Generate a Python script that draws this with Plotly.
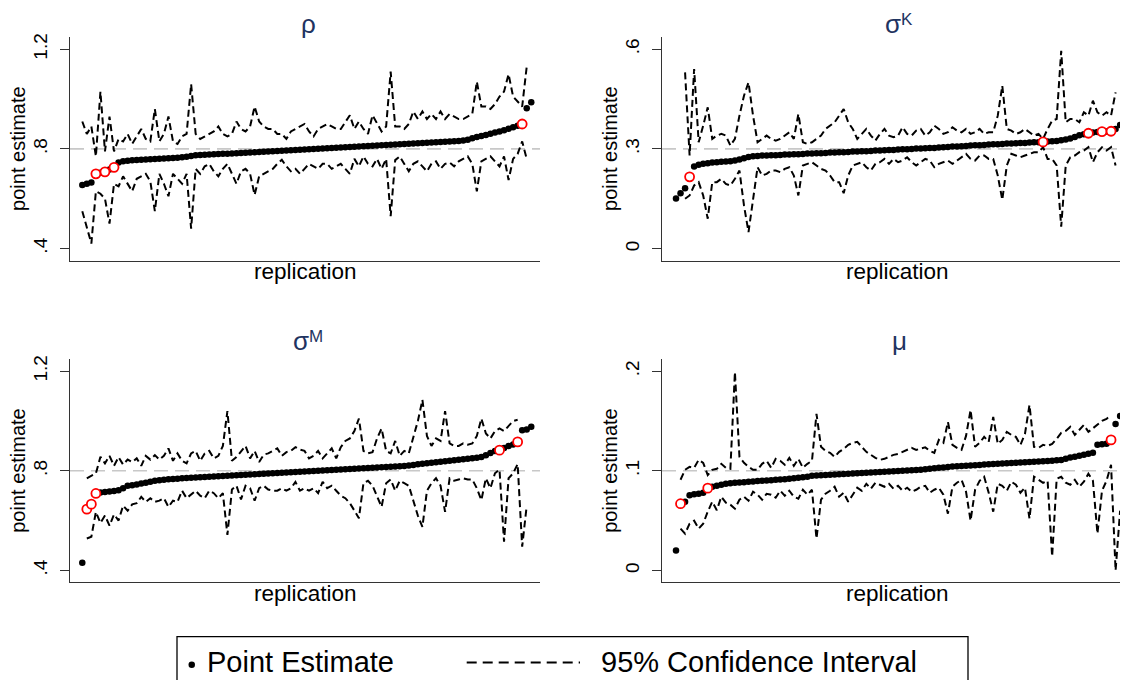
import plotly.graph_objects as go

# the page adds an 8px body margin, so the figure is 8px smaller and shifted
OFF = 8
W, H = 1128 - OFF, 680 - OFF


def px(x):
    return (x - OFF) / W


def py(y):
    return 1 - (y - OFF) / H


reps = list(range(1, 101))

# ---- rho ----
rho_est = [0.655, 0.660, 0.665, 0.700, 0.704, 0.708, 0.717, 0.726, 0.745, 0.750,
           0.752, 0.754, 0.755, 0.756, 0.757, 0.758, 0.759, 0.760, 0.761, 0.762,
           0.763, 0.764, 0.766, 0.768, 0.772, 0.775, 0.776, 0.777, 0.778, 0.779,
           0.780, 0.781, 0.781, 0.782, 0.783, 0.784, 0.785, 0.786, 0.787, 0.788,
           0.789, 0.790, 0.791, 0.792, 0.793, 0.794, 0.795, 0.796, 0.797, 0.798,
           0.799, 0.800, 0.801, 0.802, 0.803, 0.804, 0.805, 0.806, 0.807, 0.808,
           0.809, 0.810, 0.811, 0.812, 0.813, 0.814, 0.815, 0.816, 0.817, 0.818,
           0.819, 0.820, 0.821, 0.822, 0.823, 0.824, 0.825, 0.826, 0.827, 0.828,
           0.829, 0.830, 0.831, 0.832, 0.834, 0.837, 0.843, 0.848, 0.852, 0.856,
           0.861, 0.866, 0.870, 0.875, 0.881, 0.887, 0.893, 0.900, 0.963, 0.987]
rho_hi = [0.91, 0.86, 0.89, 0.77, 1.03, 0.79, 0.93, 0.79, 0.84, 0.83,
          0.86, 0.82, 0.85, 0.88, 0.84, 0.83, 0.96, 0.83, 0.86, 0.93,
          0.83, 0.82, 0.85, 0.86, 1.06, 0.86, 0.84, 0.85, 0.86, 0.87,
          0.89, 0.86, 0.85, 0.86, 0.91, 0.88, 0.87, 0.89, 0.97, 0.91,
          0.89, 0.88, 0.88, 0.86, 0.86, 0.84, 0.87, 0.88, 0.89, 0.90,
          0.87, 0.85, 0.88, 0.89, 0.90, 0.89, 0.88, 0.88, 0.91, 0.935,
          0.88, 0.91, 0.88, 0.86, 0.935, 0.90, 0.87, 0.89, 1.11, 0.89,
          0.89, 0.88, 0.90, 0.95, 0.92, 0.95, 0.92, 0.94, 0.92, 0.95,
          0.92, 0.94, 0.93, 0.92, 0.92, 0.93, 0.94, 1.07, 0.97, 0.97,
          0.96, 0.98, 1.01, 1.03, 1.10, 1.01, 0.99, 0.97, 1.13, None]
rho_lo = [0.55, 0.49, 0.42, 0.63, 0.62, 0.60, 0.50, 0.66, 0.65, 0.69,
          0.66, 0.63, 0.68, 0.69, 0.70, 0.67, 0.55, 0.70, 0.66, 0.61,
          0.70, 0.68, 0.66, 0.70, 0.48, 0.72, 0.70, 0.73, 0.74, 0.71,
          0.69, 0.72, 0.74, 0.70, 0.66, 0.71, 0.72, 0.70, 0.615, 0.69,
          0.70, 0.71, 0.72, 0.74, 0.756, 0.73, 0.71, 0.72, 0.70, 0.72,
          0.74, 0.73, 0.72, 0.74, 0.74, 0.72, 0.73, 0.74, 0.72, 0.70,
          0.76, 0.73, 0.77, 0.74, 0.73, 0.76, 0.72, 0.76, 0.53, 0.755,
          0.77, 0.74, 0.71, 0.74, 0.75, 0.73, 0.71, 0.74, 0.75, 0.72,
          0.74, 0.745, 0.73, 0.75, 0.76, 0.77, 0.74, 0.63, 0.75, 0.76,
          0.77, 0.75, 0.73, 0.77, 0.675, 0.76, 0.78, 0.83, 0.76, None]
rho_red = [4, 6, 8, 98]

# ---- sigma K ----
sk_est = [0.151, 0.167, 0.182, 0.216, 0.247, 0.252, 0.255, 0.257, 0.259, 0.260,
          0.261, 0.262, 0.263, 0.265, 0.268, 0.272, 0.276, 0.278, 0.279, 0.280,
          0.280, 0.281, 0.281, 0.282, 0.283, 0.283, 0.284, 0.284, 0.285, 0.286,
          0.286, 0.287, 0.287, 0.288, 0.289, 0.289, 0.290, 0.290, 0.291, 0.292,
          0.292, 0.293, 0.293, 0.294, 0.295, 0.295, 0.296, 0.297, 0.297, 0.298,
          0.299, 0.299, 0.300, 0.301, 0.301, 0.302, 0.303, 0.303, 0.304, 0.305,
          0.306, 0.307, 0.307, 0.308, 0.309, 0.310, 0.311, 0.311, 0.312, 0.313,
          0.314, 0.314, 0.315, 0.316, 0.316, 0.317, 0.318, 0.318, 0.319, 0.320,
          0.320, 0.321, 0.322, 0.323, 0.324, 0.326, 0.328, 0.331, 0.336, 0.341,
          0.344, 0.347, 0.349, 0.351, 0.352, 0.352, 0.353, 0.360, 0.372, 0.472]
sk_hi = [None, None, 0.53, 0.28, 0.54, 0.32, 0.37, 0.425, 0.33, 0.34,
         0.345, 0.34, 0.31, 0.33, 0.40, 0.46, 0.50, 0.40, 0.32, 0.33,
         0.34, 0.33, 0.325, 0.33, 0.34, 0.35, 0.33, 0.405, 0.32, 0.315,
         0.32, 0.33, 0.34, 0.36, 0.37, 0.38, 0.40, 0.42, 0.38, 0.36,
         0.33, 0.345, 0.36, 0.34, 0.325, 0.345, 0.36, 0.34, 0.335, 0.34,
         0.365, 0.345, 0.34, 0.355, 0.36, 0.34, 0.35, 0.37, 0.36, 0.345,
         0.35, 0.365, 0.355, 0.35, 0.36, 0.345, 0.35, 0.36, 0.345, 0.35,
         0.35, 0.40, 0.49, 0.36, 0.355, 0.345, 0.35, 0.36, 0.35, 0.34,
         0.345, 0.33, 0.36, 0.385, 0.39, 0.595, 0.38, 0.39, 0.39, 0.38,
         0.41, 0.40, 0.445, 0.41, 0.40, 0.41, 0.40, 0.47, None, None]
sk_lo = [None, None, 0.15, 0.16, 0.19, 0.20, 0.16, 0.09, 0.20, 0.20,
         0.21, 0.195, 0.19, 0.21, 0.235, 0.13, 0.05, 0.15, 0.245, 0.22,
         0.225, 0.235, 0.235, 0.23, 0.24, 0.245, 0.22, 0.16, 0.25, 0.255,
         0.26, 0.25, 0.24, 0.235, 0.22, 0.20, 0.20, 0.167, 0.22, 0.25,
         0.255, 0.26, 0.245, 0.235, 0.255, 0.26, 0.27, 0.255, 0.27, 0.26,
         0.265, 0.275, 0.26, 0.25, 0.26, 0.27, 0.265, 0.245, 0.255, 0.26,
         0.265, 0.255, 0.265, 0.275, 0.285, 0.27, 0.265, 0.28, 0.28, 0.27,
         0.27, 0.22, 0.147, 0.25, 0.285, 0.28, 0.275, 0.28, 0.285, 0.29,
         0.29, 0.305, 0.27, 0.27, 0.25, 0.066, 0.25, 0.275, 0.28, 0.29,
         0.295, 0.305, 0.26, 0.29, 0.305, 0.295, 0.305, 0.25, None, None]
sk_red = [4, 82, 92, 95, 97]

# ---- sigma M ----
sm_est = [0.431, 0.646, 0.666, 0.709, 0.713, 0.715, 0.717, 0.719, 0.722, 0.730,
          0.740, 0.742, 0.745, 0.749, 0.752, 0.756, 0.760, 0.762, 0.764, 0.766,
          0.767, 0.768, 0.770, 0.771, 0.772, 0.773, 0.774, 0.775, 0.776, 0.777,
          0.778, 0.779, 0.780, 0.781, 0.782, 0.783, 0.784, 0.785, 0.786, 0.787,
          0.788, 0.789, 0.790, 0.791, 0.792, 0.793, 0.794, 0.795, 0.796, 0.797,
          0.798, 0.799, 0.800, 0.801, 0.802, 0.803, 0.804, 0.805, 0.806, 0.807,
          0.808, 0.809, 0.810, 0.811, 0.812, 0.813, 0.814, 0.815, 0.816, 0.817,
          0.818, 0.819, 0.821, 0.823, 0.826, 0.828, 0.830, 0.832, 0.834, 0.836,
          0.838, 0.840, 0.842, 0.844, 0.846, 0.848, 0.850, 0.852, 0.855, 0.862,
          0.872, 0.880, 0.883, 0.892, 0.900, 0.906, 0.916, 0.963, 0.966, 0.977]
sm_hi = [None, 0.77, 0.78, 0.79, 0.856, 0.83, 0.86, 0.82, 0.855, 0.825,
         0.845, 0.835, 0.85, 0.82, 0.86, 0.845, 0.863, 0.845, 0.86, 0.89,
         0.84, 0.87, 0.84, 0.83, 0.87, 0.88, 0.84, 0.87, 0.88, 0.85,
         0.86, 0.90, 1.04, 0.84, 0.855, 0.88, 0.90, 0.85, 0.88, 0.835,
         0.865, 0.87, 0.88, 0.89, 0.86, 0.875, 0.88, 0.895, 0.885, 0.88,
         0.85, 0.86, 0.88, 0.85, 0.87, 0.89, 0.85, 0.895, 0.92, 0.93,
         0.96, 1.01, 0.88, 0.87, 0.875, 0.93, 0.97, 0.88, 0.87, 0.92,
         0.86, 0.88, 0.87, 0.93, 1.00, 1.085, 0.94, 0.90, 0.93, 0.92,
         1.04, 0.91, 0.90, 0.90, 0.91, 0.905, 0.91, 0.94, 1.01, 0.95,
         0.93, 0.96, 0.97, 0.96, 0.98, 1.00, 1.005, None, None, None]
sm_lo = [None, 0.528, 0.535, 0.635, 0.59, 0.62, 0.58, 0.625, 0.60, 0.66,
         0.64, 0.665, 0.67, 0.695, 0.675, 0.69, 0.675, 0.68, 0.69, 0.655,
         0.68, 0.675, 0.72, 0.69, 0.705, 0.72, 0.70, 0.69, 0.72, 0.71,
         0.69, 0.71, 0.542, 0.725, 0.74, 0.685, 0.74, 0.73, 0.68, 0.73,
         0.74, 0.725, 0.72, 0.72, 0.73, 0.72, 0.73, 0.755, 0.72, 0.73,
         0.72, 0.73, 0.71, 0.756, 0.73, 0.74, 0.72, 0.70, 0.69, 0.67,
         0.64, 0.609, 0.75, 0.76, 0.74, 0.70, 0.655, 0.75, 0.765, 0.72,
         0.76, 0.75, 0.74, 0.68, 0.62, 0.575, 0.72, 0.75, 0.77, 0.74,
         0.635, 0.77, 0.76, 0.765, 0.77, 0.765, 0.765, 0.73, 0.682, 0.77,
         0.73, 0.79, 0.805, 0.515, 0.77, 0.79, 0.827, 0.495, 0.66, None]
sm_red = [2, 3, 4, 93, 97]

# ---- mu ----
mu_est = [0.020, 0.067, 0.069, 0.0755, 0.0765, 0.077, 0.078, 0.0826, 0.084, 0.085,
          0.086, 0.087, 0.0875, 0.088, 0.0883, 0.0886, 0.089, 0.0893, 0.0897, 0.090,
          0.0903, 0.0906, 0.091, 0.0913, 0.0916, 0.092, 0.0925, 0.093, 0.0935, 0.094,
          0.095, 0.0952, 0.0955, 0.0958, 0.096, 0.0963, 0.0965, 0.0968, 0.097, 0.0973,
          0.0975, 0.0978, 0.098, 0.0983, 0.0985, 0.0987, 0.099, 0.0993, 0.0995, 0.0998,
          0.100, 0.1003, 0.1005, 0.1008, 0.101, 0.1015, 0.102, 0.1025, 0.103, 0.1034,
          0.1038, 0.1042, 0.1046, 0.1048, 0.105, 0.1053, 0.1056, 0.1059, 0.1062, 0.1065,
          0.1067, 0.107, 0.1072, 0.1075, 0.1077, 0.108, 0.1082, 0.1085, 0.1087, 0.109,
          0.1093, 0.1096, 0.1099, 0.1102, 0.1105, 0.1108, 0.112, 0.1134, 0.114, 0.115,
          0.116, 0.117, 0.118, 0.126, 0.1265, 0.127, 0.131, 0.147, 0.155, 0.159]
mu_hi = [None, 0.091, 0.101, 0.104, 0.103, 0.111, 0.108, 0.0957, 0.101, 0.102,
         0.107, 0.103, 0.102, 0.199, 0.114, 0.108, 0.104, 0.101, 0.101, 0.107,
         0.110, 0.103, 0.112, 0.110, 0.106, 0.113, 0.105, 0.112, 0.103, 0.107,
         0.110, 0.157, 0.124, 0.120, 0.118, 0.114, 0.119, 0.122, 0.126, 0.128,
         0.129, 0.124, 0.119, 0.116, 0.113, 0.111, 0.112, 0.114, 0.116, 0.117,
         0.119, 0.121, 0.123, 0.121, 0.122, 0.1235, 0.120, 0.118, 0.131, 0.128,
         0.149, 0.126, 0.123, 0.121, 0.135, 0.161, 0.124, 0.128, 0.134, 0.129,
         0.154, 0.127, 0.131, 0.139, 0.136, 0.134, 0.126, 0.137, 0.166, 0.124,
         0.123, 0.126, 0.125, 0.127, 0.132, 0.138, 0.140, 0.144, 0.136, 0.141,
         0.146, 0.139, 0.143, 0.147, 0.150, 0.152, 0.156, None, None, None]
mu_lo = [None, 0.042, 0.037, 0.047, 0.050, 0.042, 0.047, 0.059, 0.069, 0.0605,
         0.074, 0.068, 0.066, 0.062, 0.071, 0.074, 0.070, 0.079, 0.076, 0.071,
         0.077, 0.076, 0.073, 0.080, 0.075, 0.080, 0.074, 0.072, 0.081, 0.076,
         0.081, 0.032, 0.071, 0.077, 0.080, 0.084, 0.074, 0.078, 0.069, 0.076,
         0.083, 0.080, 0.087, 0.082, 0.088, 0.086, 0.084, 0.087, 0.082, 0.085,
         0.080, 0.083, 0.079, 0.081, 0.084, 0.085, 0.078, 0.081, 0.083, 0.076,
         0.057, 0.084, 0.088, 0.091, 0.079, 0.050, 0.081, 0.090, 0.094, 0.078,
         0.059, 0.087, 0.085, 0.080, 0.089, 0.086, 0.078, 0.083, 0.052, 0.094,
         0.091, 0.088, 0.090, 0.014, 0.092, 0.094, 0.088, 0.086, 0.091, 0.084,
         0.089, 0.097, 0.090, 0.037, 0.080, 0.090, 0.106, 0.000, 0.060, None]
mu_red = [2, 8, 97]

FONT = "Liberation Sans, Arial, Helvetica, sans-serif"
TITLE_COLOR = "#1f3461"
AXIS_COLOR = "#333333"

# title = (symbol, superscript or None, symbol x, superscript x)
panels = [
    dict(title=("ρ", None, 308, None), est=rho_est, hi=rho_hi, lo=rho_lo, red=rho_red, truth=0.8,
         tickvals=[0.4, 0.8, 1.2], ticktext=[".4", ".8", "1.2"], yrange=[0.352, 1.248], col=0, row=0),
    dict(title=("σ", "K", 893, 907), est=sk_est, hi=sk_hi, lo=sk_lo, red=sk_red, truth=0.3,
         tickvals=[0, 0.3, 0.6], ticktext=["0", ".3", ".6"], yrange=[-0.0355, 0.6355], col=1, row=0),
    dict(title=("σ", "M", 301, 316), est=sm_est, hi=sm_hi, lo=sm_lo, red=sm_red, truth=0.8,
         tickvals=[0.4, 0.8, 1.2], ticktext=[".4", ".8", "1.2"], yrange=[0.352, 1.248], col=0, row=1),
    dict(title=("μ", None, 900, None), est=mu_est, hi=mu_hi, lo=mu_lo, red=mu_red, truth=0.1,
         tickvals=[0, 0.1, 0.2], ticktext=["0", ".1", ".2"], yrange=[-0.0118, 0.2118], col=1, row=1),
]

# pixel geometry of the plot areas (page pixels)
col_px = [(70, 540), (662, 1128)]
row_px = [(37.3, 260.5), (359.3, 582.3)]
col_xrange = [[-1.71, 101.93], [-2.09, 100.74]]
title_y = [(24, 19.5), (341, 336)]

fig = go.Figure()
shapes = []
annotations = []
layout = {}

for k, p in enumerate(panels, start=1):
    xa = "x" if k == 1 else f"x{k}"
    ya = "y" if k == 1 else f"y{k}"
    x0, x1 = col_px[p["col"]]
    ytop, ybot = row_px[p["row"]]

    for ci in (p["hi"], p["lo"]):
        fig.add_trace(go.Scatter(
            x=reps, y=ci, mode="lines", xaxis=xa, yaxis=ya,
            line=dict(color="black", width=2.0, dash="7px,4px"),
            connectgaps=False, showlegend=False, hoverinfo="skip"))

    black_x = [r for r in reps if r not in p["red"]]
    black_y = [p["est"][r - 1] for r in black_x]
    fig.add_trace(go.Scatter(
        x=black_x, y=black_y, mode="markers", xaxis=xa, yaxis=ya,
        marker=dict(color="black", size=6.5, line=dict(width=0)), showlegend=False))

    fig.add_trace(go.Scatter(
        x=p["red"], y=[p["est"][r - 1] for r in p["red"]], mode="markers",
        xaxis=xa, yaxis=ya,
        marker=dict(symbol="circle", color="white", size=9,
                    line=dict(color="#ff0000", width=1.8)),
        showlegend=False))

    # true value reference line
    shapes.append(dict(type="line", xref=f"{xa} domain", yref=ya, x0=0, x1=1,
                       y0=p["truth"], y1=p["truth"], layer="below",
                       line=dict(color="#c8c8c8", width=1.6, dash="14px,7px")))

    layout["xaxis" if k == 1 else f"xaxis{k}"] = dict(
        domain=[px(x0), px(x1)], range=col_xrange[p["col"]], anchor=ya,
        showline=True, linecolor=AXIS_COLOR, linewidth=1.3, showgrid=False,
        zeroline=False, showticklabels=False, ticks="", automargin=False)
    layout["yaxis" if k == 1 else f"yaxis{k}"] = dict(
        domain=[py(ybot), py(ytop)], range=p["yrange"], anchor=xa,
        showline=True, linecolor=AXIS_COLOR, linewidth=1.3, showgrid=False,
        zeroline=False, tickvals=p["tickvals"], ticktext=p["ticktext"],
        ticks="outside", ticklen=9, tickwidth=1.2, tickcolor=AXIS_COLOR,
        tickangle=-90, tickfont=dict(size=19, color="black", family=FONT),
        ticklabelstandoff=5, automargin=False)

    sym, sup, sx, supx = p["title"]
    ty, supy = title_y[p["row"]]
    annotations.append(dict(text=sym, x=px(sx), y=py(ty), xref="paper", yref="paper",
                            showarrow=False, xanchor="center", yanchor="middle",
                            font=dict(size=26, color=TITLE_COLOR, family=FONT)))
    if sup:
        annotations.append(dict(text=sup, x=px(supx), y=py(supy), xref="paper", yref="paper",
                                showarrow=False, xanchor="center", yanchor="middle",
                                font=dict(size=17, color=TITLE_COLOR, family=FONT)))

    xc = (x0 + (1132 if p["col"] == 1 else x1)) / 2
    annotations.append(dict(text="replication", x=px(xc), y=py(ybot + 11), xref="paper", yref="paper",
                            showarrow=False, xanchor="center", yanchor="middle",
                            font=dict(size=22.5, color="black", family=FONT)))
    annotations.append(dict(text="point estimate", x=px(x0 - 52), y=py((ytop + ybot) / 2),
                            xref="paper", yref="paper", showarrow=False, textangle=-90,
                            xanchor="center", yanchor="middle",
                            font=dict(size=20, color="black", family=FONT)))

# legend box, drawn by hand
shapes.append(dict(type="rect", xref="paper", yref="paper", x0=px(177), x1=px(968),
                   y0=py(700), y1=py(636.7), line=dict(color="black", width=1.3),
                   fillcolor="rgba(0,0,0,0)"))
shapes.append(dict(type="circle", xref="paper", yref="paper", x0=px(188.5), x1=px(195),
                   y0=py(668), y1=py(661.5), line=dict(width=0), fillcolor="black"))
shapes.append(dict(type="line", xref="paper", yref="paper", x0=px(466.7), x1=px(580),
                   y0=py(662.5), y1=py(662.5), line=dict(color="black", width=2.0, dash="10px,6px")))
annotations.append(dict(text="Point Estimate", x=px(205), y=py(662), xref="paper", yref="paper",
                        showarrow=False, xanchor="left", yanchor="middle",
                        font=dict(size=29, color="black", family=FONT)))
annotations.append(dict(text="95% Confidence Interval", x=px(599), y=py(662), xref="paper",
                        yref="paper", showarrow=False, xanchor="left", yanchor="middle",
                        font=dict(size=29, color="black", family=FONT)))

fig.update_layout(
    width=W, height=H,
    margin=dict(l=0, r=0, t=0, b=0),
    paper_bgcolor="white", plot_bgcolor="white",
    font=dict(family=FONT, color="black"),
    showlegend=False,
    shapes=shapes, annotations=annotations,
    **layout,
)

fig.write_html("out.html")
